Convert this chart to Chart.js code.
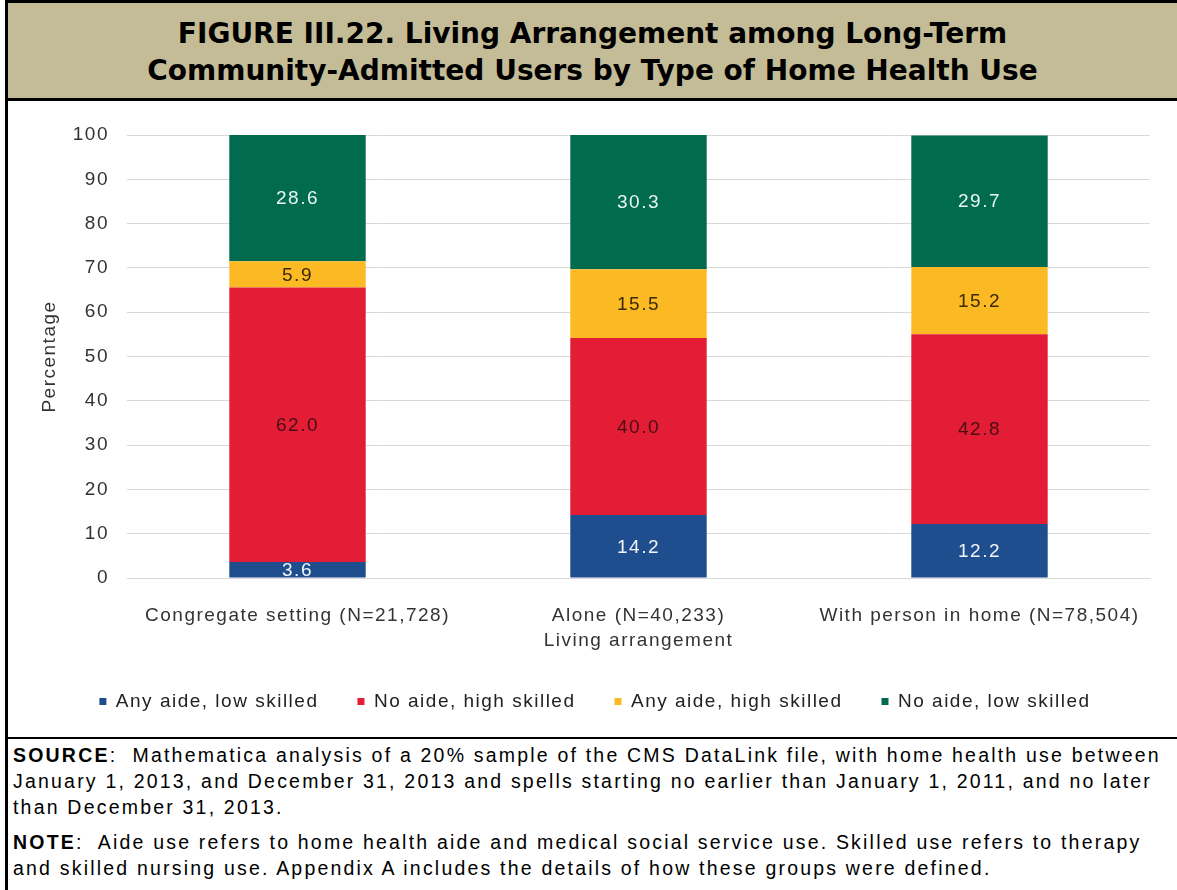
<!DOCTYPE html>
<html>
<head>
<meta charset="utf-8">
<script src="https://cdn.jsdelivr.net/npm/chart.js@4.4.1/dist/chart.umd.min.js"></script>
<style>
  body { margin: 0; background: #fff; }
  #frame { position: relative; width: 1177px; height: 890px; overflow: hidden; background: #fff; }
  .rule { position: absolute; background: #000; }
  #title {
    position: absolute; left: 8px; top: 3px; width: 1169px; height: 95px;
    background: #c4bc96; text-align: center;
    font-family: "DejaVu Sans", sans-serif; font-weight: bold; font-size: 28px;
    line-height: 37px; padding-top: 12px; box-sizing: border-box; color: #000;
  }
  #plot { position: absolute; left: 8px; top: 101px; width: 1169px; height: 636px; }
  #notes {
    position: absolute; left: 13px; top: 739px; width: 1160px;
    font-family: "Liberation Sans", Arial, sans-serif; font-size: 19.5px;
    line-height: 26px; letter-spacing: 2.2px; color: #000; padding-top: 3px;
  }
  #notes div { white-space: nowrap; }
  #notes .gap { margin-top: 9px; }
</style>
</head>
<body>
<div id="frame">
  <div class="rule" style="left:5px;top:0;width:3px;height:890px"></div>
  <div class="rule" style="left:5px;top:0;right:0;height:3px"></div>
  <div id="title">FIGURE III.22. Living Arrangement among Long-Term<br>Community-Admitted Users by Type of Home Health Use</div>
  <div class="rule" style="left:8px;top:98px;right:0;height:3px"></div>
  <div id="plot"><canvas id="chart"></canvas></div>
  <div class="rule" style="left:8px;top:737px;right:0;height:2px"></div>
  <div id="notes">
    <div><b>SOURCE</b>:&nbsp; Mathematica analysis of a 20% sample of the CMS DataLink file, with home health use between</div>
    <div>January 1, 2013, and December 31, 2013 and spells starting no earlier than January 1, 2011, and no later</div>
    <div>than December 31, 2013.</div>
    <div class="gap"><b>NOTE</b>:&nbsp; Aide use refers to home health aide and medical social service use. Skilled use refers to therapy</div>
    <div>and skilled nursing use. Appendix A includes the details of how these groups were defined.</div>
  </div>
</div>
<script>
// living arrangement groups
const categories = ['Congregate setting (N=21,728)', 'Alone (N=40,233)', 'With person in home (N=78,504)'];

// percentage of users in each home health use type
const anyAideLowSkilled = [3.6, 14.2, 12.2];
const noAideHighSkilled = [62.0, 40.0, 42.8];
const anyAideHighSkilled = [5.9, 15.5, 15.2];
const noAideLowSkilled = [28.6, 30.3, 29.7];

const seriesNames = ['Any aide, low skilled', 'No aide, high skilled', 'Any aide, high skilled', 'No aide, low skilled'];
const seriesColors = ['#1f4e8f', '#e31d36', '#fbb924', '#006b4f'];
const labelColors = ['#f2f5fa', '#4a0d12', '#3a2a00', '#eaf6f0'];

const yTicks = [0, 10, 20, 30, 40, 50, 60, 70, 80, 90, 100];

const FONT = '"Liberation Sans", Arial, sans-serif';
const SPACING = '1.5px';

// wider text tracking on every pass that measures or paints text
const tracking = {
  id: 'tracking',
  beforeUpdate(chart) { chart.ctx.letterSpacing = SPACING; },
  beforeDraw(chart) { chart.ctx.letterSpacing = SPACING; }
};

// value written in the middle of each segment
const segmentLabels = {
  id: 'segmentLabels',
  afterDatasetsDraw(chart) {
    const ctx = chart.ctx;
    ctx.save();
    ctx.letterSpacing = SPACING;
    ctx.font = '19px ' + FONT;
    ctx.textAlign = 'center';
    ctx.textBaseline = 'middle';
    chart.data.datasets.forEach((ds, i) => {
      ctx.fillStyle = labelColors[i];
      chart.getDatasetMeta(i).data.forEach((bar, j) => {
        ctx.fillText(ds.data[j].toFixed(1), bar.x, (bar.y + bar.base) / 2 + 1);
      });
    });
    ctx.restore();
  }
};

const series = [anyAideLowSkilled, noAideHighSkilled, anyAideHighSkilled, noAideLowSkilled];

new Chart(document.getElementById('chart'), {
  type: 'bar',
  data: {
    labels: categories,
    datasets: series.map((values, i) => ({
      label: seriesNames[i],
      data: values,
      backgroundColor: seriesColors[i],
      borderWidth: 0,
      categoryPercentage: 1,
      barPercentage: 0.4
    }))
  },
  options: {
    responsive: true,
    maintainAspectRatio: false,
    animation: false,
    layout: { padding: { left: 32, right: 27, top: 34, bottom: 16 } },
    scales: {
      x: {
        stacked: true,
        grid: { display: false },
        border: { display: true, color: '#d9d9d9', width: 1 },
        ticks: { color: '#333', font: { family: FONT, size: 19 }, padding: 18, maxRotation: 0 },
        title: { display: true, text: 'Living arrangement', color: '#333', font: { family: FONT, size: 19 }, padding: { top: 0, bottom: 1 } },
        afterFit(scale) { scale.height = 75; }
      },
      y: {
        stacked: true,
        min: 0,
        max: 100,
        afterBuildTicks(scale) { scale.ticks = yTicks.map(v => ({ value: v })); },
        grid: { color: '#d9d9d9', lineWidth: 1, drawTicks: false },
        border: { display: false },
        ticks: { color: '#333', font: { family: FONT, size: 19 }, padding: 18 },
        title: { display: true, text: 'Percentage', color: '#333', font: { family: FONT, size: 19 }, padding: { top: -2, bottom: 0 } },
        afterFit(scale) { scale.width = 87; }
      }
    },
    plugins: {
      legend: {
        position: 'bottom',
        labels: {
          color: '#222',
          font: { family: FONT, size: 19 },
          boxWidth: 7,
          boxHeight: 7,
          padding: 39
        }
      },
      tooltip: { enabled: false }
    }
  },
  plugins: [tracking, segmentLabels]
});
</script>
</body>
</html>
